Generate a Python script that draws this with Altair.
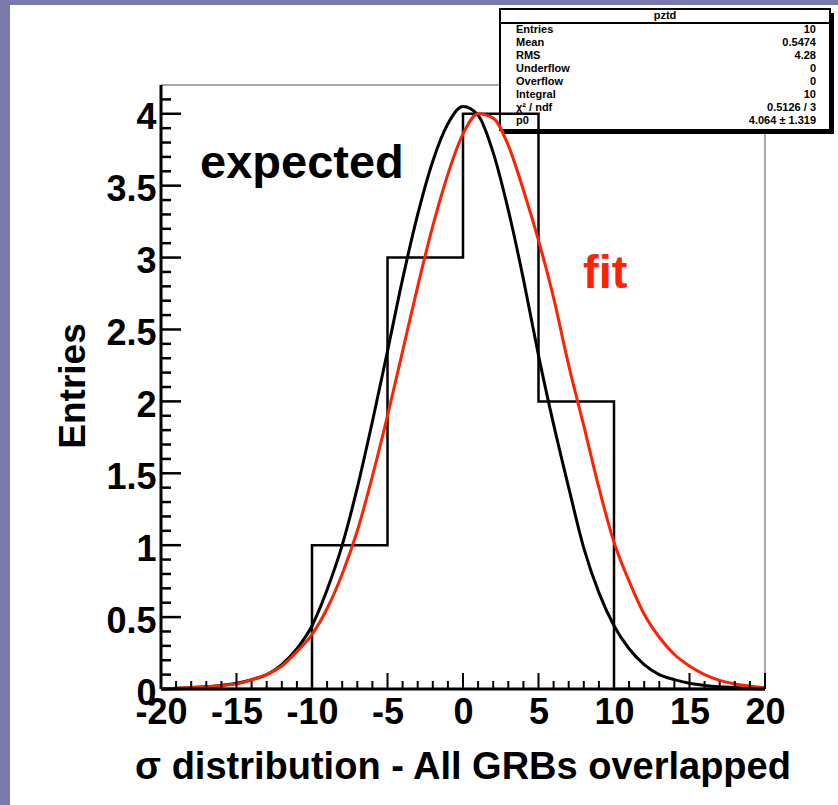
import altair as alt
import pandas as pd

# ---------------- data ----------------
bin_left_edges = [-20, -15, -10, -5, 0, 5, 10, 15]
bin_counts = [0, 0, 1, 3, 4, 2, 0, 0]
x_upper_edge = 20

curve_x = [-20, -19, -18, -17, -16, -15, -14, -13, -12, -11, -10, -9, -8, -7, -6, -5, -4, -3, -2, -1,
           0, 1, 2, 3, 4, 5, 6, 7, 8, 9, 10, 11, 12, 13, 14, 15, 16, 17, 18, 19, 20]
expected_y = [0.00, 0.005, 0.01, 0.015, 0.025, 0.04, 0.065, 0.10, 0.17, 0.28, 0.44, 0.69, 1.00, 1.40,
              1.86, 2.35, 2.85, 3.30, 3.67, 3.93, 4.05, 3.99, 3.73, 3.33, 2.85, 2.32, 1.84, 1.40, 0.98,
              0.67, 0.44, 0.28, 0.17, 0.10, 0.065, 0.04, 0.025, 0.015, 0.01, 0.005, 0.00]
fit_y = [0.00, 0.005, 0.01, 0.015, 0.025, 0.035, 0.065, 0.10, 0.16, 0.26, 0.38, 0.56, 0.80, 1.10,
         1.48, 1.90, 2.35, 2.80, 3.22, 3.58, 3.86, 4.00, 3.97, 3.78, 3.47, 3.12, 2.72, 2.25, 1.83,
         1.40, 1.02, 0.75, 0.52, 0.36, 0.24, 0.16, 0.10, 0.06, 0.035, 0.02, 0.01]

x_major_ticks = [-20, -15, -10, -5, 0, 5, 10, 15, 20]
x_minor_ticks = [-19, -18, -17, -16, -14, -13, -12, -11, -9, -8, -7, -6, -4, -3, -2, -1,
                 1, 2, 3, 4, 6, 7, 8, 9, 11, 12, 13, 14, 16, 17, 18, 19]
y_major_ticks = [0, 0.5, 1, 1.5, 2, 2.5, 3, 3.5, 4]
y_minor_ticks = [0.1, 0.2, 0.3, 0.4, 0.6, 0.7, 0.8, 0.9, 1.1, 1.2, 1.3, 1.4, 1.6, 1.7, 1.8, 1.9,
                 2.1, 2.2, 2.3, 2.4, 2.6, 2.7, 2.8, 2.9, 3.1, 3.2, 3.3, 3.4, 3.6, 3.7, 3.8, 3.9, 4.1]

stats_title = "pztd"
stats_labels = ["Entries", "Mean", "RMS", "Underflow", "Overflow", "Integral", "χ² / ndf", "p0"]
stats_values = ["10", "0.5474", "4.28", "0", "0", "10", "0.5126 / 3", "4.064 ± 1.319"]

x_title = "σ distribution - All GRBs overlapped"
y_title = "Entries"

# ---------------- setup ----------------
FONT = "Liberation Sans"
RED = "#ff2200"
W, H = 604, 604
XS = alt.Scale(domain=[-20, 20], nice=False, zero=False)
YS = alt.Scale(domain=[0, 4.2], nice=False, zero=False)
XA = alt.Axis(values=x_major_ticks, labelExpr="'' + datum.value", domain=False, ticks=False,
              grid=False, title=None,
              labelFont=FONT, labelFontWeight="bold", labelFontSize=36, labelColor="black",
              labelPadding=6, labelFlush=False, labelOverlap=False, labelBound=False, zindex=1)
YA = alt.Axis(values=y_major_ticks, labelExpr="'' + datum.value", domain=False, ticks=False,
              grid=False, title=None,
              labelFont=FONT, labelFontWeight="bold", labelFontSize=36, labelColor="black",
              labelPadding=5, labelOffset=4, labelFlush=False, labelOverlap=False, labelBound=False,
              zindex=1)
one = pd.DataFrame({"k": [0]})

hist_df = pd.DataFrame({"x": bin_left_edges + [x_upper_edge], "y": bin_counts + [0]})
curve_df = pd.DataFrame({"x": curve_x, "expected": expected_y, "fit": fit_y})

layers = []

# white page (purple border shows at left/top)
layers.append(alt.Chart(one).mark_rect(color="white").encode(
    x=alt.value(-151), x2=alt.value(677), y=alt.value(-80), y2=alt.value(720)))

# thin top/right frame
layers.append(alt.Chart(one).mark_rule(color="#555555", strokeWidth=1).encode(
    x=alt.value(0), x2=alt.value(W), y=alt.value(0)))
layers.append(alt.Chart(one).mark_rule(color="#555555", strokeWidth=1).encode(
    x=alt.value(W), y=alt.value(0), y2=alt.value(H)))

# stats box
bx0, bx1, by0, by1 = 339, 669, -76, 45
layers.append(alt.Chart(one).mark_rect(color="black").encode(
    x=alt.value(bx0 + 4), x2=alt.value(bx1 + 4), y=alt.value(by0 + 4), y2=alt.value(by1 + 4)))
layers.append(alt.Chart(one).mark_rect(fill="white", stroke="black", strokeWidth=2).encode(
    x=alt.value(bx0), x2=alt.value(bx1), y=alt.value(by0), y2=alt.value(by1)))
layers.append(alt.Chart(one).mark_rule(color="black", strokeWidth=2).encode(
    x=alt.value(bx0), x2=alt.value(bx1), y=alt.value(-62)))
layers.append(alt.Chart(pd.DataFrame({"t": [stats_title]})).mark_text(
    font=FONT, fontWeight="bold", fontSize=11, align="center", baseline="middle").encode(
    x=alt.value((bx0 + bx1) / 2), y=alt.value(-69), text="t:N"))
row_y0, row_dy = -55, 13
for i, (lab, val) in enumerate(zip(stats_labels, stats_values)):
    layers.append(alt.Chart(pd.DataFrame({"t": [lab]})).mark_text(
        font=FONT, fontWeight="bold", fontSize=11, align="left", baseline="middle").encode(
        x=alt.value(355), y=alt.value(row_y0 + i * row_dy), text="t:N"))
    layers.append(alt.Chart(pd.DataFrame({"t": [val]})).mark_text(
        font=FONT, fontWeight="bold", fontSize=11, align="right", baseline="middle").encode(
        x=alt.value(655), y=alt.value(row_y0 + i * row_dy), text="t:N"))

# histogram outline
layers.append(alt.Chart(hist_df).mark_line(color="black", strokeWidth=2.5, interpolate="step-after").encode(
    x=alt.X("x:Q", scale=XS, axis=XA),
    y=alt.Y("y:Q", scale=YS, axis=YA),
))

# curves
layers.append(alt.Chart(curve_df).mark_line(color="black", strokeWidth=3, interpolate="monotone").encode(
    x=alt.X("x:Q", scale=XS, axis=XA), y=alt.Y("expected:Q", scale=YS, axis=YA)))
layers.append(alt.Chart(curve_df).mark_line(color=RED, strokeWidth=3, interpolate="monotone").encode(
    x=alt.X("x:Q", scale=XS, axis=XA), y=alt.Y("fit:Q", scale=YS, axis=YA)))

# axis lines
layers.append(alt.Chart(one).mark_rule(color="black", strokeWidth=3).encode(
    x=alt.value(0), y=alt.value(0), y2=alt.value(H)))
layers.append(alt.Chart(one).mark_rule(color="black", strokeWidth=3).encode(
    x=alt.value(0), x2=alt.value(W), y=alt.value(H)))

# inward ticks
layers.append(alt.Chart(pd.DataFrame({"v": x_major_ticks})).mark_rule(color="black", strokeWidth=2).encode(
    x=alt.X("v:Q", scale=XS, axis=XA), y=alt.value(H), y2=alt.value(H - 16)))
layers.append(alt.Chart(pd.DataFrame({"v": x_minor_ticks})).mark_rule(color="black", strokeWidth=2).encode(
    x=alt.X("v:Q", scale=XS, axis=XA), y=alt.value(H), y2=alt.value(H - 8)))
layers.append(alt.Chart(pd.DataFrame({"v": y_major_ticks})).mark_rule(color="black", strokeWidth=2.5).encode(
    y=alt.Y("v:Q", scale=YS, axis=YA), x=alt.value(0), x2=alt.value(20)))
layers.append(alt.Chart(pd.DataFrame({"v": y_minor_ticks})).mark_rule(color="black", strokeWidth=2.5).encode(
    y=alt.Y("v:Q", scale=YS, axis=YA), x=alt.value(0), x2=alt.value(10)))

# annotations
layers.append(alt.Chart(pd.DataFrame({"t": ["expected"]})).mark_text(
    font=FONT, fontWeight="bold", fontSize=47, align="left", baseline="alphabetic", color="black").encode(
    x=alt.value(39), y=alt.value(93), text="t:N"))
layers.append(alt.Chart(pd.DataFrame({"t": ["fit"]})).mark_text(
    font=FONT, fontWeight="bold", fontSize=47, align="left", baseline="alphabetic", color=RED).encode(
    x=alt.value(422), y=alt.value(203), text="t:N"))

# axis titles
layers.append(alt.Chart(pd.DataFrame({"t": [x_title]})).mark_text(
    font=FONT, fontWeight="bold", fontSize=38, align="center", baseline="alphabetic", color="black").encode(
    x=alt.value(302), y=alt.value(694), text="t:N"))
layers.append(alt.Chart(pd.DataFrame({"t": [y_title]})).mark_text(
    font=FONT, fontWeight="bold", fontSize=37, align="center", baseline="alphabetic", angle=270,
    color="black").encode(
    x=alt.value(-76), y=alt.value(301), text="t:N"))

chart = alt.layer(*layers).properties(
    width=W, height=H,
    padding={"left": 161, "top": 85, "right": 73, "bottom": 116},
    autosize=alt.AutoSizeParams(type="none"),
    background="#7b7bab",
).configure_view(stroke=None)

chart.save("out.html", embed_options={"renderer": "svg", "actions": False})
